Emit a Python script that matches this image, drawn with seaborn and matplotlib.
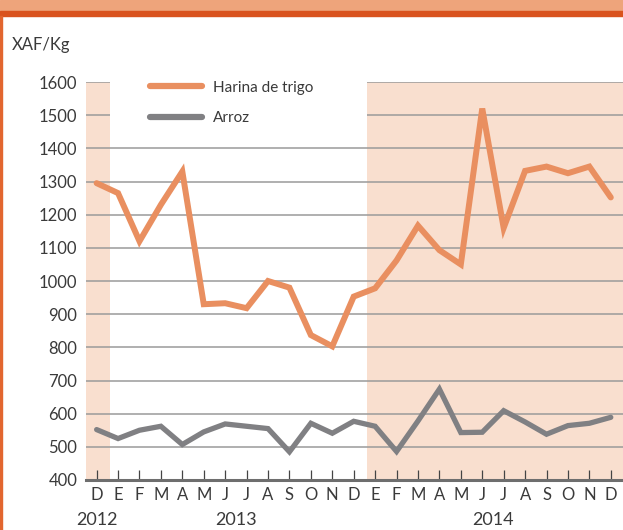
# Precios mensuales: harina de trigo y arroz (XAF/Kg), dic 2012 - dic 2014

import pandas as pd
import seaborn as sns
import matplotlib.pyplot as plt
from matplotlib.patches import Rectangle

#----------------------------------------------------------------------------#

meses = ['D', 'E', 'F', 'M', 'A', 'M', 'J', 'J', 'A', 'S', 'O', 'N', 'D',
         'E', 'F', 'M', 'A', 'M', 'J', 'J', 'A', 'S', 'O', 'N', 'D']
trigo = [1295, 1265, 1120, 1230, 1330, 930, 933, 918, 1000, 980, 837, 803,
         953, 978, 1062, 1167, 1093, 1050, 1520, 1160, 1332, 1345, 1325,
         1345, 1252]
arroz = [552, 525, 550, 562, 507, 545, 569, 562, 555, 485, 571, 541, 577,
         562, 486, 578, 674, 543, 544, 609, 575, 538, 564, 571, 589]
anios = ['2012', '2013', '2014']
anio_centro = [0, 6.5, 18.5]

df = pd.DataFrame({'mes': range(len(meses)), 'trigo': trigo, 'arroz': arroz})

#----------------------------------------------------------------------------#

sns.set_style("white")
plt.rcParams['font.family'] = ['Lato', 'DejaVu Sans']

naranja = '#E98F60'
gris = '#808083'
sombra = '#F9DFCF'
texto = '#3a3a3a'

fig = plt.figure(figsize=(6.23, 5.30), dpi=100)
ax = fig.add_axes([85.7 / 623, 50 / 530, 1 - 85.7 / 623, 398 / 530])

# encabezado y borde
fig.patches.append(Rectangle((0, 1 - 11 / 530), 1, 11 / 530,
                             transform=fig.transFigure, color='#EEA47B',
                             zorder=0))
fig.patches.append(Rectangle((0, 1 - 16 / 530), 1, 5 / 530,
                             transform=fig.transFigure, color='#D9531E',
                             zorder=0))
fig.patches.append(Rectangle((0, 0), 1.8 / 623, 1 - 16 / 530,
                             transform=fig.transFigure, color='#E2662F',
                             zorder=0))

# zonas sombreadas (2012 y 2014)
ax.axvspan(-1, 0.63, color=sombra, lw=0, zorder=0.2)
ax.axvspan(12.6, 30, color=sombra, lw=0, zorder=0.2)

# lineas
sns.lineplot(data=df, x='mes', y='trigo', ax=ax, color=naranja, lw=4.3,
             label='Harina de trigo', zorder=3)
sns.lineplot(data=df, x='mes', y='arroz', ax=ax, color=gris, lw=3.8,
             label='Arroz', zorder=3)
for ln in ax.get_lines():
    ln.set_solid_capstyle('round')
    ln.set_solid_joinstyle('miter')

# caja blanca de la leyenda
ax.add_patch(Rectangle((0.63, 1431), 12.6 - 0.63, 200, color='white',
                       lw=0, zorder=0.8))

leg = ax.legend(loc='upper left', bbox_to_anchor=(0.1197, 1.003),
                frameon=False, borderpad=0, borderaxespad=0,
                handlelength=3.4, handletextpad=0.75, labelspacing=1.05,
                fontsize=11)
for t in leg.get_texts():
    t.set_color(texto)
for h in leg.legend_handles:
    h.set_solid_capstyle('round')
    h.set_linewidth(4.5)

ax.set_xlim(-0.51, 24.57)
ax.set_ylim(400, 1600)
ax.set_yticks(range(400, 1700, 100))
ax.set_xticks(range(len(meses)))
ax.set_xticklabels(meses)
ax.set_xlabel('')
ax.set_ylabel('')

ax.set_axisbelow(True)
ax.grid(axis='y', color='#9a9a9a', lw=1.1)
ax.grid(axis='x', visible=False)

for s in ['top', 'left', 'right']:
    ax.spines[s].set_visible(False)
ax.spines['bottom'].set_color('#6e6e6e')
ax.spines['bottom'].set_linewidth(2.2)
ax.spines['bottom'].set_zorder(4)

ax.tick_params(axis='x', direction='in', length=7.5, width=0.9,
               color='#444444', labelsize=12, labelcolor=texto, pad=5,
               bottom=True)
ax.tick_params(axis='y', length=0, labelsize=12, labelcolor=texto, pad=6)

for a, c in zip(anios, anio_centro):
    ax.text(c, -0.1, a, transform=ax.get_xaxis_transform(), ha='center',
            va='center', fontsize=13, color=texto)

fig.text(12 / 623, 1 - 45 / 530, 'XAF/Kg', ha='left', va='center',
         fontsize=12, color=texto)

plt.savefig("out.png", dpi=100)
